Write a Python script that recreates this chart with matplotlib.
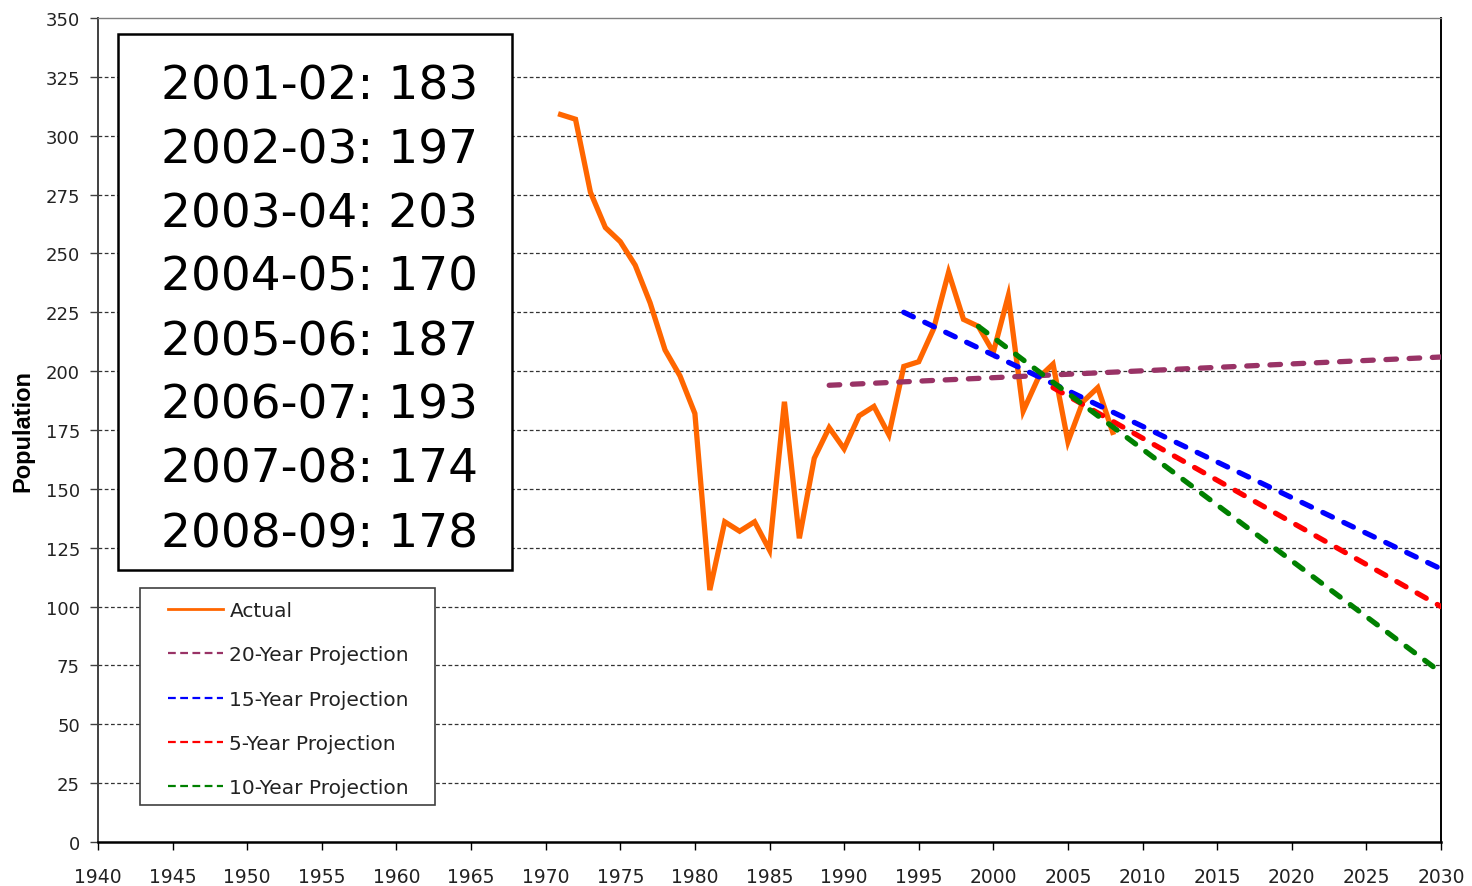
import matplotlib.pyplot as plt
from matplotlib.lines import Line2D
from matplotlib.patches import Rectangle

# Actual population by year
actual_years = [1971, 1972, 1973, 1974, 1975, 1976, 1977, 1978, 1979, 1980,
                1981, 1982, 1983, 1984, 1985, 1986, 1987, 1988, 1989, 1990,
                1991, 1992, 1993, 1994, 1995, 1996, 1997, 1998, 1999, 2000,
                2001, 2002, 2003, 2004, 2005, 2006, 2007, 2008]
actual_values = [309, 307, 276, 261, 255, 245, 229, 209, 198, 182,
                 107, 136, 132, 136, 124, 187, 129, 163, 176, 167,
                 181, 185, 173, 202, 204, 218, 242, 222, 219, 208,
                 232, 183, 197, 203, 170, 187, 193, 174]

# Linear projections (start / end)
proj20_years = [1989, 2030]
proj20_values = [194, 206]
proj15_years = [1994, 2030]
proj15_values = [225, 116]
proj5_years = [2004, 2030]
proj5_values = [193, 100]
proj10_years = [1999, 2030]
proj10_values = [219, 72]

# Text box contents
seasons = ["2001-02", "2002-03", "2003-04", "2004-05",
           "2005-06", "2006-07", "2007-08", "2008-09"]
season_counts = [183, 197, 203, 170, 187, 193, 174, 178]

C_ACTUAL = "#FF6600"
C_20 = "#993366"
C_15 = "#0000FF"
C_5 = "#FF0000"
C_10 = "#008000"

fig = plt.figure(figsize=(14.72, 8.87), dpi=100)
ax = fig.add_axes([98 / 1472, 1 - 843 / 887, 1343 / 1472, 824 / 887])

ax.set_xlim(1940, 2030)
ax.set_ylim(0, 350)
ax.set_xticks(range(1940, 2031, 5))
ax.set_yticks(range(0, 351, 25))

for y in range(25, 350, 25):
    ax.axhline(y, color="#333333", lw=0.9, dashes=(3, 2), zorder=1)

dash_kw = dict(lw=3.8, dashes=(2, 2.4), dash_capstyle="round", zorder=4)
ax.plot(actual_years, actual_values, color=C_ACTUAL, lw=3.8,
        solid_joinstyle="miter", zorder=3)
ax.plot(proj20_years, proj20_values, color=C_20, **dash_kw)
ax.plot(proj15_years, proj15_values, color=C_15, **dash_kw)
ax.plot(proj5_years, proj5_values, color=C_5, **dash_kw)
ax.plot(proj10_years, proj10_values, color=C_10, **dash_kw)

ax.spines["top"].set_color("#808080")
ax.spines["top"].set_linewidth(1.0)
ax.spines["left"].set_color("#404040")
ax.spines["left"].set_linewidth(1.4)
ax.spines["right"].set_color("black")
ax.spines["right"].set_linewidth(1.4)
ax.spines["bottom"].set_color("black")
ax.spines["bottom"].set_linewidth(1.8)

ax.tick_params(axis="y", length=6, width=1.0, pad=7, labelsize=13,
               labelcolor="#222222", color="#404040")
ax.tick_params(axis="x", length=6, width=1.0, pad=12, labelsize=13.5,
               labelcolor="#222222")
ax.set_ylabel("Population", family="Liberation Sans", fontsize=17,
              fontweight="bold", labelpad=8)

# Season counts box
ax.add_patch(Rectangle((20 / 1343, 272 / 824), 394 / 1343, 536 / 824,
                       transform=ax.transAxes, facecolor="white",
                       edgecolor="black", lw=1.8, zorder=6, clip_on=False))
for i, (s, n) in enumerate(zip(seasons, season_counts)):
    baseline = 99 + 64 * i
    ax.text(221.5 / 1343, (843 - baseline) / 824, f"{s}: {n}",
            transform=ax.transAxes, ha="center", va="baseline",
            fontsize=33.8, family="DejaVu Sans", zorder=7)

# Legend with a manual frame
ax.add_patch(Rectangle((42 / 1343, 37 / 824), 295 / 1343, 217 / 824,
                       transform=ax.transAxes, facecolor="white",
                       edgecolor="#404040", lw=1.2, zorder=6))
leg_dash = dict(lw=1.6, dashes=(3.5, 2))
handles = [
    Line2D([], [], color=C_ACTUAL, lw=2.0),
    Line2D([], [], color=C_20, **leg_dash),
    Line2D([], [], color=C_15, **leg_dash),
    Line2D([], [], color=C_5, **leg_dash),
    Line2D([], [], color=C_10, **leg_dash),
]
labels = ["Actual", "20-Year Projection", "15-Year Projection",
          "5-Year Projection", "10-Year Projection"]
leg = ax.legend(handles, labels, loc="upper left",
                bbox_to_anchor=(70 / 1343, (843 - 602) / 824),
                frameon=False, fontsize=14.5, handlelength=2.75,
                handletextpad=0.3, labelspacing=1.26, borderpad=0,
                borderaxespad=0)
leg.set_zorder(8)
for t in leg.get_texts():
    t.set_color("#222222")

fig.savefig("out.png", dpi=100)
